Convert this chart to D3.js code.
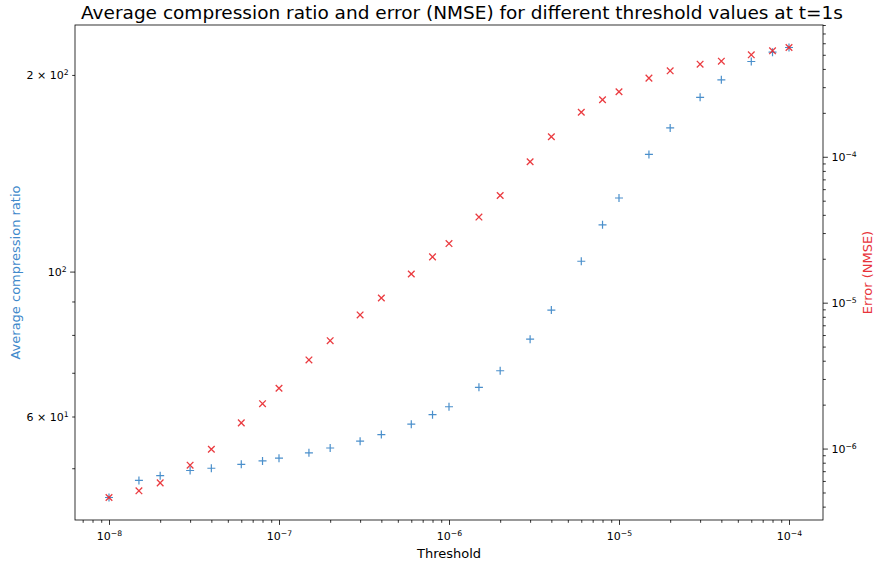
<!DOCTYPE html>
<html>
<head>
<meta charset="utf-8">
<script src="https://cdn.jsdelivr.net/npm/d3@7"></script>
<style>
  body { margin: 0; background: #fff; }
  text { font-family: "DejaVu Sans", sans-serif; }
</style>
</head>
<body>
<svg id="chart" width="875" height="563"></svg>
<script>
// thresholds tested (x), compression ratio (left axis), NMSE (right axis)
const thresholds = [1e-8, 1.5e-8, 2e-8, 3e-8, 4e-8, 6e-8, 8e-8, 1e-7, 1.5e-7, 2e-7, 3e-7, 4e-7, 6e-7, 8e-7,
                    1e-6, 1.5e-6, 2e-6, 3e-6, 4e-6, 6e-6, 8e-6, 1e-5, 1.5e-5, 2e-5, 3e-5, 4e-5, 6e-5, 8e-5, 1e-4];
const compressionRatio = [45.1, 47.9, 48.7, 49.6, 50.0, 50.7, 51.3, 51.8, 52.8, 53.7, 55.0, 56.3, 58.4, 60.4,
                          62.1, 66.5, 70.5, 78.8, 87.3, 103.7, 117.9, 129.6, 151.1, 165.9, 184.8, 196.6, 209.7, 216.7, 220.3];
const errorNmse = [4.62e-7, 5.13e-7, 5.82e-7, 7.69e-7, 9.89e-7, 1.50e-6, 2.03e-6, 2.59e-6, 4.05e-6, 5.49e-6, 8.24e-6, 1.077e-5, 1.573e-5, 2.06e-5,
                   2.54e-5, 3.86e-5, 5.43e-5, 9.24e-5, 1.371e-4, 2.02e-4, 2.46e-4, 2.79e-4, 3.46e-4, 3.88e-4, 4.31e-4, 4.52e-4, 5.0e-4, 5.32e-4, 5.61e-4];

// tick labels: [base, superscript]
const xTicks = [1e-8, 1e-7, 1e-6, 1e-5, 1e-4];
const xTickLabels = [["10", "\u22128"], ["10", "\u22127"], ["10", "\u22126"], ["10", "\u22125"], ["10", "\u22124"]];
const leftMajor = [100];
const leftMajorLabels = [["10", "2"]];
const leftLabeledMinor = [60, 200];
const leftMinorLabels = [["6 \u00d7 10", "1"], ["2 \u00d7 10", "2"]];
const rightTicks = [1e-6, 1e-5, 1e-4];
const rightTickLabels = [["10", "\u22126"], ["10", "\u22125"], ["10", "\u22124"]];

const blue = "#2a7bc2", red = "#e8262b";
const margin = {left: 75, right: 52, top: 25, bottom: 43};
const width = 875, height = 563;
const innerW = width - margin.left - margin.right;
const innerH = height - margin.top - margin.bottom;

const svg = d3.select("#chart");
const g = svg.append("g").attr("transform", `translate(${margin.left},${margin.top})`);

// matplotlib style 5% padding in log space
function logPad(ext) {
  const a = Math.log10(ext[0]), b = Math.log10(ext[1]), p = (b - a) * 0.05;
  return [Math.pow(10, a - p), Math.pow(10, b + p)];
}
function minorTicks(dom) {
  const out = [];
  for (let e = Math.floor(Math.log10(dom[0])); e <= Math.ceil(Math.log10(dom[1])); e++)
    for (let k = 2; k <= 9; k++) {
      const v = k * Math.pow(10, e);
      if (v >= dom[0] && v <= dom[1]) out.push(v);
    }
  return out;
}

const x = d3.scaleLog().domain(logPad(d3.extent(thresholds))).range([0, innerW]);
const yL = d3.scaleLog().domain(logPad(d3.extent(compressionRatio))).range([innerH, 0]);
const yR = d3.scaleLog().domain(logPad(d3.extent(errorNmse))).range([innerH, 0]);

function supText(sel, parts) {
  sel.text(null).attr("fill", "#000").attr("font-size", 11);
  sel.append("tspan").text(parts[0]);
  sel.append("tspan").attr("dy", "-0.45em").attr("font-size", 7.7).text(parts[1]);
}
function styleAxis(ag) {
  ag.select(".domain").remove();
  ag.selectAll(".tick line").attr("stroke", "#000").attr("stroke-width", 0.8);
}

// x axis
const xMinor = minorTicks(x.domain()).filter(v => !xTicks.includes(v));
g.append("g").attr("transform", `translate(0,${innerH})`)
  .call(d3.axisBottom(x).tickValues(xMinor).tickSize(2.8).tickFormat(() => ""))
  .call(styleAxis);
const xAx = g.append("g").attr("transform", `translate(0,${innerH})`)
  .call(d3.axisBottom(x).tickValues(xTicks).tickSize(4.9).tickPadding(7).tickFormat(() => ""))
  .call(styleAxis);
xAx.selectAll(".tick text").each(function (d, i) { supText(d3.select(this), xTickLabels[i]); });

// left axis
const lMinor = minorTicks(yL.domain()).filter(v => Math.abs(v - 100) > 1e-9);
const lMinAx = g.append("g")
  .call(d3.axisLeft(yL).tickValues(lMinor).tickSize(2.8).tickPadding(3.5).tickFormat(() => ""))
  .call(styleAxis);
lMinAx.selectAll(".tick text").each(function (d) {
  const i = leftLabeledMinor.findIndex(v => Math.abs(v - d) < 1e-6);
  if (i >= 0) supText(d3.select(this), leftMinorLabels[i]);
});
const lAx = g.append("g")
  .call(d3.axisLeft(yL).tickValues(leftMajor).tickSize(4.9).tickPadding(3.5).tickFormat(() => ""))
  .call(styleAxis);
lAx.selectAll(".tick text").each(function (d, i) { supText(d3.select(this), leftMajorLabels[i]); });

// right axis
const rMinor = minorTicks(yR.domain()).filter(v => !rightTicks.some(t => Math.abs(t - v) / t < 1e-6));
g.append("g").attr("transform", `translate(${innerW},0)`)
  .call(d3.axisRight(yR).tickValues(rMinor).tickSize(2.8).tickFormat(() => ""))
  .call(styleAxis);
const rAx = g.append("g").attr("transform", `translate(${innerW},0)`)
  .call(d3.axisRight(yR).tickValues(rightTicks).tickSize(4.9).tickPadding(3.5).tickFormat(() => ""))
  .call(styleAxis);
rAx.selectAll(".tick text").each(function (d, i) { supText(d3.select(this), rightTickLabels[i]); });

// frame
g.append("rect").attr("width", innerW).attr("height", innerH)
  .attr("fill", "none").attr("stroke", "#000").attr("stroke-width", 0.8);

// markers
const plusPath = "M-4,0H4M0,-4V4";
const crossPath = "M-3.3,-3.3L3.3,3.3M-3.3,3.3L3.3,-3.3";
g.append("g").selectAll("path").data(thresholds).join("path")
  .attr("d", plusPath)
  .attr("transform", (d, i) => `translate(${x(d)},${yL(compressionRatio[i])})`)
  .attr("stroke", blue).attr("stroke-width", 1.2).attr("fill", "none").attr("opacity", 0.85);
g.append("g").selectAll("path").data(thresholds).join("path")
  .attr("d", crossPath)
  .attr("transform", (d, i) => `translate(${x(d)},${yR(errorNmse[i])})`)
  .attr("stroke", red).attr("stroke-width", 1.3).attr("fill", "none").attr("opacity", 0.9);

// labels
svg.append("text").attr("x", 462).attr("y", 19)
  .attr("text-anchor", "middle").attr("font-size", 18.5).attr("fill", "#000")
  .text("Average compression ratio and error (NMSE) for different threshold values at t=1s");
svg.append("text").attr("x", margin.left + innerW / 2).attr("y", 558)
  .attr("text-anchor", "middle").attr("font-size", 13).attr("fill", "#000")
  .text("Threshold");
svg.append("text").attr("transform", `translate(20,${margin.top + innerH / 2}) rotate(-90)`)
  .attr("text-anchor", "middle").attr("font-size", 13).attr("fill", "#4189cb")
  .text("Average compression ratio");
svg.append("text").attr("transform", `translate(872,${margin.top + innerH / 2}) rotate(-90)`)
  .attr("text-anchor", "middle").attr("font-size", 13).attr("fill", "#e8333a")
  .text("Error (NMSE)");
</script>
</body>
</html>
